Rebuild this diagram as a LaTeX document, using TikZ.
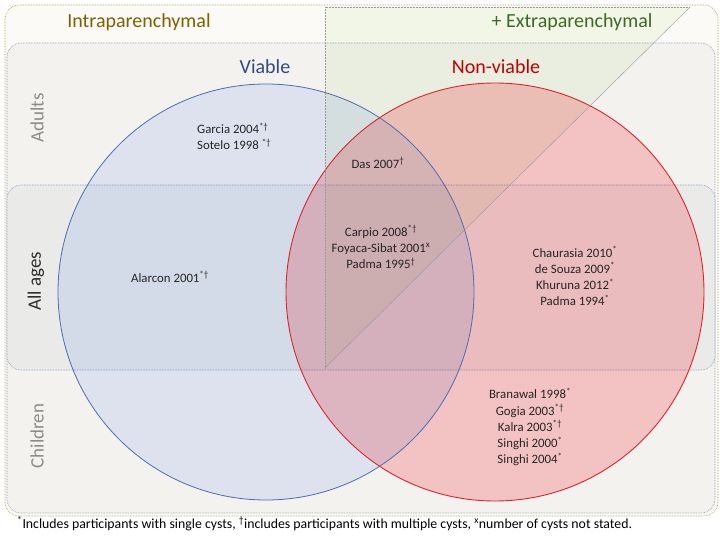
\documentclass[tikz,border=0pt]{standalone}
\usepackage{fontspec}
\setmainfont{Carlito}
\definecolor{goldtxt}{HTML}{7F6000}
\definecolor{greentxt}{HTML}{3B6A22}
\definecolor{bluetxt}{HTML}{2F4A85}
\definecolor{redtxt}{HTML}{C00000}
\definecolor{txtdark}{HTML}{262626}
\definecolor{agegray}{HTML}{8C8C8C}
\definecolor{agedark}{HTML}{2E2E2E}
\definecolor{bgout}{HTML}{FBFAF6}
\definecolor{bgin}{HTML}{F3F2EF}
\definecolor{bgall}{HTML}{EAEAE9}
\definecolor{goldline}{HTML}{A08A3C}
\definecolor{blueline}{HTML}{7088BC}
\definecolor{bluefill}{RGB}{232,239,254}
\definecolor{redfill}{RGB}{255,205,207}
\definecolor{greenfill}{RGB}{246,251,239}
\definecolor{bluecirc}{HTML}{4A6DB3}
\definecolor{redcirc}{HTML}{D9262C}
\definecolor{grayline}{HTML}{9A9A9A}
\begin{document}
\begin{tikzpicture}[x=1pt,y=-1pt,
  title/.style={font=\fontsize{20}{24}\selectfont, inner sep=0pt},
  agelabel/.style={font=\fontsize{19}{22}\selectfont, rotate=90, inner sep=0pt},
  study/.style={font=\fontsize{12.8}{16.2}\selectfont, text=txtdark, align=center, inner sep=0pt},
  bandbox/.style={draw=blueline, densely dotted, line width=0.6pt, rounded corners=14pt}]
\useasboundingbox (0,0) rectangle (720,540);
\fill[white] (0,0) rectangle (720,540);
% frames
\draw[goldline, densely dotted, line width=0.6pt, fill=bgout, rounded corners=14pt] (5,5) rectangle (718,516);
\draw[bandbox, fill=bgin] (7,43) rectangle (715,513);
\draw[bandbox, fill=bgall] (7,185) rectangle (715,370);
% circles
\begin{scope}[blend mode=multiply]
  \fill[bluefill] (266,292) circle[radius=208];
  \fill[redfill] (495,292) circle[radius=209];
  \fill[greenfill] (325,7) -- (690,7) -- (325,368) -- cycle;
\end{scope}
\draw[bluecirc, line width=0.8pt] (266,292) circle[radius=208];
\draw[redcirc, line width=0.9pt] (495,292) circle[radius=209];
\draw[grayline, densely dotted, line width=0.5pt] (325,368) -- (325,7) -- (690,7);
\draw[grayline, line width=0.4pt] (690,7) -- (325,368);
% titles
\node[title, text=goldtxt] (intra) at (139,22) {Intraparenchymal};
\node[title, text=greentxt] (extra) at (572,22) {+ Extraparenchymal};
\node[title, text=bluetxt] (viable) at (265,67) {Viable};
\node[title, text=redtxt] (nonviable) at (496,67) {Non-viable};
% age labels
\node[agelabel, text=agegray] (adults) at (37,118) {Adults};
\node[agelabel, text=agedark] (allages) at (36,281) {All ages};
\node[agelabel, text=agegray] (children) at (37,436) {Children};
% studies
\node[study, align=left, anchor=west] (garcia) at (197,136.5) {Garcia 2004\textsuperscript{*†}\\Sotelo 1998 \textsuperscript{*†}};
\node[study] (das) at (378,163) {Das 2007\textsuperscript{†}};
\node[study] (carpio) at (381,247) {Carpio 2008\textsuperscript{*†}\\Foyaca-Sibat 2001\textsuperscript{x}\\Padma 1995\textsuperscript{†}};
\node[study] (alarcon) at (170,277) {Alarcon 2001\textsuperscript{*†}};
\node[study] (chaurasia) at (575,276) {Chaurasia 2010\textsuperscript{*}\\de Souza 2009\textsuperscript{*}\\Khuruna 2012\textsuperscript{*}\\Padma 1994\textsuperscript{*}};
\node[study] (branawal) at (530,427) {Branawal 1998\textsuperscript{*}\\Gogia 2003\textsuperscript{*†}\\Kalra 2003\textsuperscript{*†}\\Singhi 2000\textsuperscript{*}\\Singhi 2004\textsuperscript{*}};
% footnote
\node[font=\fontsize{13.8}{16}\selectfont, text=black, anchor=west, inner sep=0pt] (foot) at (17,524) {\textsuperscript{*}Includes participants with single cysts, \textsuperscript{†}includes participants with multiple cysts, \textsuperscript{x}number of cysts not stated.};
\end{tikzpicture}
\end{document}
